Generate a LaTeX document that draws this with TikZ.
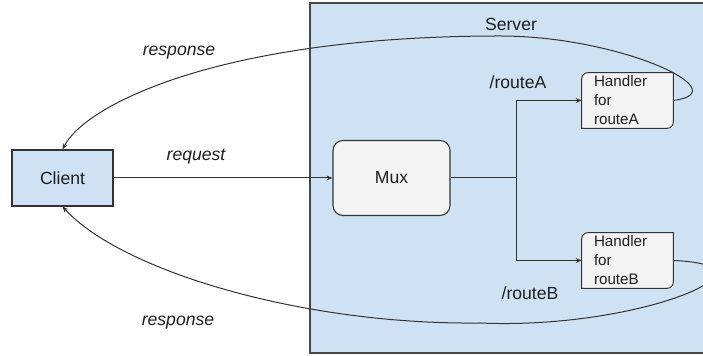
\documentclass[tikz,border=0pt]{standalone}
\usepackage{fontspec}
\setmainfont{Liberation Sans}
\usetikzlibrary{arrows.meta,calc}
\definecolor{paleblue}{HTML}{CFE2F3}
\definecolor{palegray}{HTML}{F3F3F3}
\definecolor{ink}{HTML}{333333}
\definecolor{txt}{HTML}{1E1E1E}

\begin{document}
\begin{tikzpicture}[x=0.75pt,y=0.75pt,
  lbl/.style={font=\fontsize{13.2}{15}\selectfont, text=txt, inner sep=0pt},
  conn/.style={draw=ink, line width=0.75pt, -{Stealth[length=4.5pt,width=3.6pt]}},
  clientbox/.style={draw=ink, line width=0.8pt, fill=paleblue, lbl,
    minimum width=75.75pt, minimum height=42pt},
  muxbox/.style={draw=ink, line width=0.8pt, fill=palegray, lbl,
    rounded corners=7.5pt, minimum width=87.75pt, minimum height=56.25pt},
  handlerbox/.style={fill=palegray, text=txt,
    font=\fontsize{11.4}{14.25}\selectfont, align=left,
    text width=50.25pt, inner xsep=9pt, inner ysep=0pt, minimum height=41.25pt},
  serverbox/.style={draw=ink!90, line width=1pt, fill=paleblue,
    minimum width=345pt, minimum height=262.5pt}]

\useasboundingbox (0,0) rectangle (703,356);

% server area (runs past the right edge)
\node[serverbox] (server) at (540,178) {};
\node[lbl] (servertitle) at (511,332) {Server};

% boxes
\node[clientbox] (client) at (62.5,178) {Client};
\node[muxbox] (mux) at (391.5,178) {Mux};
\node[handlerbox] (hA) at (627.5,255.5) {Handler\\for\\routeA};
\node[handlerbox] (hB) at (627.5,95.5) {Handler\\for\\routeB};

% handler outlines: rounded top-left and bottom-right corners
\foreach \h in {hA,hB}
  \draw[ink, line width=0.75pt]
    ($(\h.north west)+(0,-6)$) -- (\h.south west)
    -- ($(\h.south east)+(-6,0)$) arc[start angle=270,end angle=360,radius=4.5pt]
    -- (\h.north east)
    -- ($(\h.north west)+(6,0)$) arc[start angle=90,end angle=180,radius=4.5pt]
    -- cycle;

% request and routing
\draw[conn] (client.east) -- (mux.west);
\draw[conn] (mux.east) -- ++(66,0) |- (hA.west);
\draw[conn] (mux.east) -- ++(66,0) |- (hB.west);

% responses back to the client
\draw[conn] (hA.east) .. controls (740,264) and (620,320) .. (500,320)
  .. controls (220,320) and (85,251) .. (client.north);
\draw[conn] (hB.east) .. controls (790,91) and (640,26) .. (480,33)
  .. controls (300,31) and (120,86) .. (client.south);

% labels
\node[lbl, font=\fontsize{13.2}{15}\selectfont\itshape] (resptop) at (179,303) {response};
\node[lbl, font=\fontsize{13.2}{15}\selectfont\itshape] (req) at (196,199) {request};
\node[lbl, font=\fontsize{13.2}{15}\selectfont\itshape] (respbot) at (178,33) {response};
\node[lbl] (routeA) at (518,274) {/routeA};
\node[lbl] (routeB) at (530,63) {/routeB};
\end{tikzpicture}
\end{document}
